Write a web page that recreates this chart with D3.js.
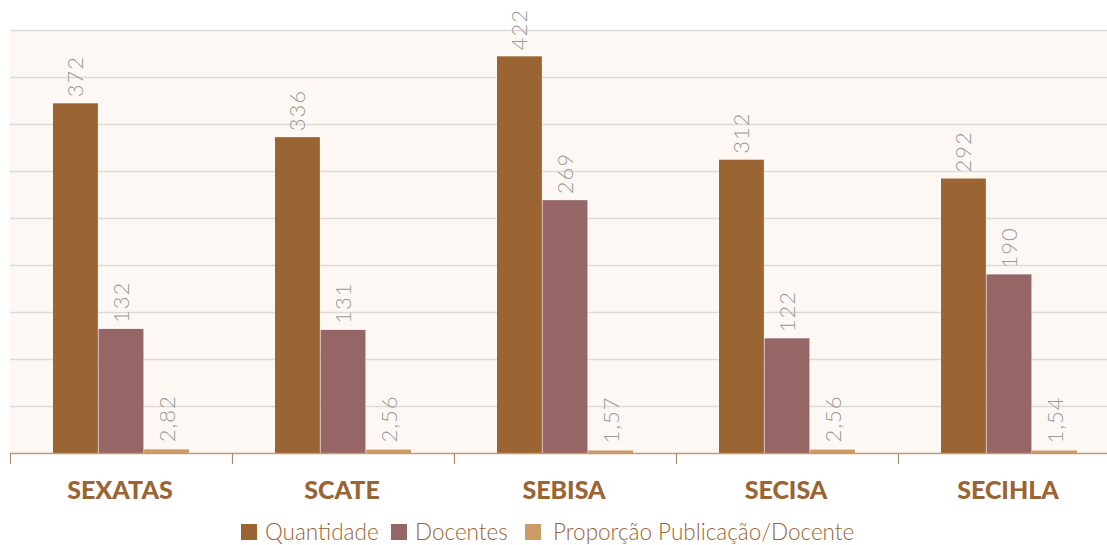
<!DOCTYPE html>
<html>
<head>
<meta charset="utf-8">
<script src="https://cdn.jsdelivr.net/npm/d3@7"></script>
<style>
  html, body { margin: 0; padding: 0; background: #ffffff; }
  svg { display: block; }
</style>
</head>
<body>
<svg id="chart" width="1107" height="545"></svg>
<script>
// dados do gráfico
var setores = ["SEXATAS", "SCATE", "SEBISA", "SECISA", "SECIHLA"];
var series = ["Quantidade", "Docentes", "Proporção Publicação/Docente"];
var quantidade = [372, 336, 422, 312, 292];
var docentes = [132, 131, 269, 122, 190];
var proporcao = [2.82, 2.56, 1.57, 2.56, 1.54];
var cores = ["#9a6433", "#966565", "#cb9a66"];

var svg = d3.select("#chart");
var W = 1107, H = 545;
var top_ = 30, base = 453, left = 10, right = 1120;

var valores = [quantidade, docentes, proporcao];

var x = d3.scaleBand().domain(setores).range([left, right]).padding(0);
var xs = d3.scaleBand().domain(d3.range(series.length))
    .range([43, 179]).paddingInner(0.015);
var y = d3.scaleLinear().domain([0, 450]).range([base, top_]);

// fundo da área
svg.append("rect")
    .attr("x", left).attr("y", top_)
    .attr("width", W - left).attr("height", base - top_)
    .attr("fill", "#fdf8f4");

// linhas de grade
svg.append("g").selectAll("line")
    .data(y.ticks(9).filter(function(d){ return d > 0; }))
    .enter().append("line")
    .attr("x1", left).attr("x2", W)
    .attr("y1", function(d){ return Math.round(y(d)) + 0.5; })
    .attr("y2", function(d){ return Math.round(y(d)) + 0.5; })
    .attr("stroke", "#dedad7").attr("stroke-width", 1.3);

// barras
var grupos = svg.append("g").selectAll("g")
    .data(setores)
    .enter().append("g")
    .attr("transform", function(d){ return "translate(" + x(d) + ",0)"; });

grupos.selectAll("rect")
    .data(function(d, i){ return valores.map(function(v, s){ return {s: s, v: v[i]}; }); })
    .enter().append("rect")
    .attr("x", function(d){ return xs(d.s); })
    .attr("width", xs.bandwidth())
    .attr("y", function(d){ return y(d.v) - (d.s == 2 ? 1 : 0); })
    .attr("height", function(d){ return base - y(d.v) + (d.s == 2 ? 1 : 0); })
    .attr("fill", function(d){ return cores[d.s]; });

// rótulos dos valores
grupos.selectAll("text")
    .data(function(d, i){ return valores.map(function(v, s){ return {s: s, v: v[i]}; }); })
    .enter().append("text")
    .attr("transform", function(d){
        var cx = xs(d.s) + xs.bandwidth() / 2 + 8;
        var cy = y(d.v) - (d.s == 2 ? 8 : 6);
        return "translate(" + cx + "," + cy + ") rotate(-90)";
    })
    .attr("font-family", "Lato, 'Open Sans', sans-serif")
    .attr("font-weight", 300)
    .attr("font-size", "22px")
    .attr("fill", "#9a9a9a")
    .attr("letter-spacing", "1px")
    .text(function(d){ return d.s == 2 ? d3.format(".2f")(d.v).replace(".", ",") : d.v; });

// eixo x
var eixo = svg.append("g");
eixo.append("line")
    .attr("x1", left).attr("x2", W)
    .attr("y1", base + 0.5).attr("y2", base + 0.5)
    .attr("stroke", "#c49a6c").attr("stroke-width", 1.5);
eixo.selectAll(".tk")
    .data(setores)
    .enter().append("line")
    .attr("class", "tk")
    .attr("x1", function(d){ return x(d) + 0.5; })
    .attr("x2", function(d){ return x(d) + 0.5; })
    .attr("y1", base).attr("y2", base + 11)
    .attr("stroke", "#a98a6a").attr("stroke-width", 1.2);
eixo.selectAll("text")
    .data(setores)
    .enter().append("text")
    .attr("x", function(d){ return x(d) + x.bandwidth() / 2 - 1; })
    .attr("y", 499)
    .attr("text-anchor", "middle")
    .attr("font-family", "Lato, 'Open Sans', sans-serif")
    .attr("font-weight", 900)
    .attr("font-size", "25px")
    .attr("fill", "#9a6433")
    .text(function(d){ return d; });

// legenda
var legX = [241, 391, 525];
var leg = svg.append("g").selectAll("g")
    .data(series)
    .enter().append("g")
    .attr("transform", function(d, i){ return "translate(" + legX[i] + ",524)"; });
leg.append("rect")
    .attr("width", 16).attr("height", 16)
    .attr("fill", function(d, i){ return cores[i]; });
leg.append("text")
    .attr("x", function(d, i){ return i == 2 ? 28 : 24; })
    .attr("y", 16)
    .attr("font-family", "Lato, 'Open Sans', sans-serif")
    .attr("font-weight", 300)
    .attr("font-size", "22.5px")
    .attr("fill", "#9a6433")
    .text(function(d){ return d; });
</script>
</body>
</html>
